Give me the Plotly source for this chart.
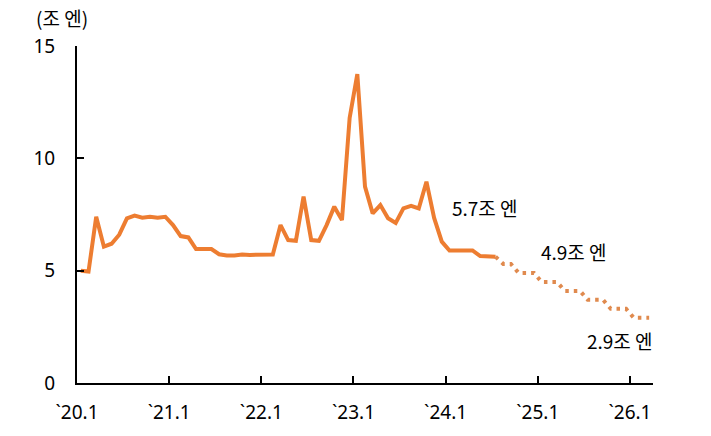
import plotly.graph_objects as go

# Monthly values (조 엔), Jan 2020 .. Jul 2024 (actual)
actual_values = [5.0, 4.96, 7.4, 6.07, 6.2, 6.6, 7.33, 7.45, 7.36, 7.4, 7.36, 7.4,
                 7.03, 6.54, 6.48, 5.96, 5.96, 5.96, 5.73, 5.68, 5.68, 5.72, 5.7, 5.72,
                 5.7, 5.72, 7.03, 6.36, 6.33, 8.3, 6.36, 6.33, 7.03, 7.85, 7.25, 11.8,
                 13.75, 8.74, 7.55, 7.92, 7.33, 7.12, 7.77, 7.88, 7.77, 8.96, 7.35, 6.29,
                 5.9, 5.9, 5.9, 5.9, 5.65, 5.65, 5.62]
# Planned path, Jul 2024 .. Mar 2026
plan_values = [5.62, 5.3, 5.3, 4.9, 4.9, 4.9, 4.5, 4.5, 4.5, 4.1, 4.1, 4.1,
               3.7, 3.7, 3.7, 3.3, 3.3, 3.3, 2.9, 2.9, 2.9]
tick_labels = ["`20.1", "`21.1", "`22.1", "`23.1", "`24.1", "`25.1", "`26.1"]
y_ticks = [0, 5, 10, 15]
notes = [("5.7조 엔", 48.6, 7.82), ("4.9조 엔", 60.1, 5.84), ("2.9조 엔", 66.1, 1.87)]

x_actual = [i + 0.5 for i in range(len(actual_values))]
start_plan = len(actual_values) - 1
x_plan = [start_plan + i + 0.5 for i in range(len(plan_values))]

FONT = "Noto Sans CJK KR"
TICKFONT = "Noto Sans, Noto Sans CJK KR"
ORANGE = "#ED7D31"

fig = go.Figure()
fig.add_trace(go.Scatter(x=x_actual, y=actual_values, mode="lines",
                         line=dict(color=ORANGE, width=4), hoverinfo="skip"))
fig.add_trace(go.Scatter(x=x_plan, y=plan_values, mode="lines",
                         line=dict(color="#E08A4E", width=4, dash="3.5px,5px"),
                         hoverinfo="skip"))

for text, xv, yv in notes:
    fig.add_annotation(x=xv, y=yv, text=text, showarrow=False, xanchor="left",
                       font=dict(family=FONT, size=19, color="black"))

fig.add_annotation(xref="paper", yref="paper", x=-0.073, y=1.084, text="(조 엔)",
                   showarrow=False, xanchor="left", yanchor="middle", borderpad=0,
                   font=dict(family=FONT, size=19, color="black"))

fig.update_xaxes(range=[0, 75], tickmode="array",
                 tickvals=[12 * k for k in range(len(tick_labels))],
                 ticktext=tick_labels, ticks="inside", ticklen=7, tickwidth=2,
                 tickcolor="black", showline=True, linecolor="black", linewidth=2,
                 showgrid=False, zeroline=False, ticklabelstandoff=11,
                 automargin=False,
                 tickfont=dict(family=TICKFONT, size=19, color="black"))
fig.update_yaxes(range=[0, 15], tickmode="array", tickvals=y_ticks,
                 ticks="inside", ticklen=7, tickwidth=2, tickcolor="black",
                 showline=True, linecolor="black", linewidth=2, showgrid=False,
                 zeroline=False, ticklabelstandoff=16, automargin=False,
                 tickfont=dict(family=TICKFONT, size=19, color="black"))

fig.update_layout(width=711, height=436, showlegend=False,
                  plot_bgcolor="white", paper_bgcolor="white",
                  margin=dict(l=77, r=58, t=46, b=53, autoexpand=False))

fig.write_html("out.html", config={"displayModeBar": False},
               post_script="document.body.style.margin='0';")
